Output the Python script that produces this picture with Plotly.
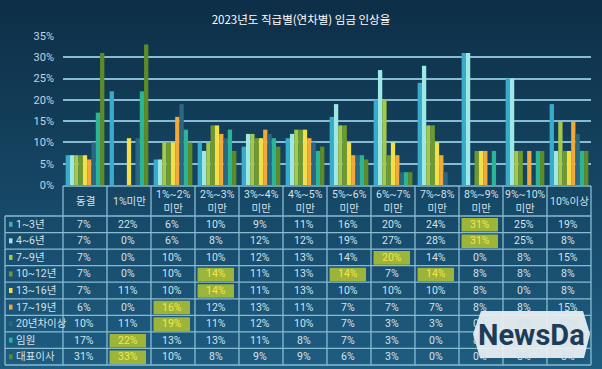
import plotly.graph_objects as go

# ---------------- data ----------------
categories = ["동결", "1%미만", "1%~2% 미만", "2%~3% 미만", "3%~4% 미만", "4%~5% 미만",
              "5%~6% 미만", "6%~7% 미만", "7%~8% 미만", "8%~9% 미만", "9%~10% 미만", "10%이상"]
header_labels = ["동결", "1%미만", "1%~2%<br>미만", "2%~3%<br>미만", "3%~4%<br>미만", "4%~5%<br>미만",
                 "5%~6%<br>미만", "6%~7%<br>미만", "7%~8%<br>미만", "8%~9%<br>미만", "9%~10%<br>미만", "10%이상"]
series_names = ["1~3년", "4~6년", "7~9년", "10~12년", "13~16년", "17~19년", "20년차이상", "임원", "대표이사"]

yr_1_3 = [7, 22, 6, 10, 9, 11, 16, 20, 24, 31, 25, 19]
yr_4_6 = [7, 0, 6, 8, 12, 12, 19, 27, 28, 31, 25, 8]
yr_7_9 = [7, 0, 10, 10, 12, 13, 14, 20, 14, 0, 8, 15]
yr_10_12 = [7, 0, 10, 14, 11, 13, 14, 7, 14, 8, 8, 8]
yr_13_16 = [7, 11, 10, 14, 11, 13, 10, 10, 10, 8, 0, 8]
yr_17_19 = [6, 0, 16, 12, 13, 11, 7, 7, 7, 8, 8, 15]
yr_20plus = [10, 11, 19, 11, 12, 10, 7, 3, 3, 0, 0, 12]
executive = [17, 22, 13, 13, 11, 8, 7, 3, 0, 8, 8, 8]
ceo = [31, 33, 10, 8, 9, 9, 6, 3, 0, 0, 8, 8]

series_values = [yr_1_3, yr_4_6, yr_7_9, yr_10_12, yr_13_16, yr_17_19, yr_20plus, executive, ceo]
colors = ["#3aaccb", "#9ee8e6", "#a4c94a", "#6c9a2c", "#f3df4b", "#f2a93b", "#2b6682", "#2bb597", "#5e8b28"]

y_ticks = [0, 5, 10, 15, 20, 25, 30, 35]

# ---------------- layout geometry (pixels) ----------------
W, H = 602, 369
L, R, T, B = 63, 591, 36, 185


def px(x):
    return (x - L) / (R - L)


def py(y):
    return (B - y) / (B - T)


fig = go.Figure()
for name, vals, c in zip(series_names, series_values, colors):
    fig.add_bar(x=categories, y=vals, name=name,
                marker=dict(color=c, line=dict(width=0)))

shapes = []
annotations = []

# background gradient (vertical bands)
top_c = (13, 47, 71)
bot_c = (30, 92, 128)
nb = 46
for i in range(nb):
    t = i / (nb - 1)
    col = tuple(int(round(top_c[k] + (bot_c[k] - top_c[k]) * t)) for k in range(3))
    y0 = H * i / nb
    y1 = H * (i + 1) / nb + 1
    shapes.append(dict(type="rect", xref="paper", yref="paper", layer="below",
                       x0=px(-5), x1=px(W + 5), y0=py(y1), y1=py(y0),
                       fillcolor="rgb(%d,%d,%d)" % col, line=dict(width=0)))

# table geometry
ncol = len(categories)
cw = (R - L) / ncol
col_edges = [L + cw * i for i in range(ncol + 1)]
row_top = 216
row_bot = 365
nrow = len(series_names)
rh = (row_bot - row_top) / nrow
row_edges = [row_top + rh * i for i in range(nrow + 1)]
head_top = 186
line_col = "#86bdd3"
txt_col = "#d3e3ec"
tfont = "Roboto, Noto Sans CJK KR, sans-serif"

# highlights: row maxima
for r, vals in enumerate(series_values):
    m = max(vals)
    for c, v in enumerate(vals):
        if v == m:
            shapes.append(dict(type="rect", xref="paper", yref="paper", layer="above",
                               x0=px(col_edges[c] + 2.5), x1=px(col_edges[c + 1] - 5),
                               y0=py(row_edges[r + 1] - 1), y1=py(row_edges[r] + 2),
                               fillcolor="#9cb43a", line=dict(width=0)))

# table lines
for y in row_edges:
    shapes.append(dict(type="line", xref="paper", yref="paper", layer="above",
                       x0=px(5), x1=px(R), y0=py(y), y1=py(y),
                       line=dict(color=line_col, width=1.3)))
shapes.append(dict(type="line", xref="paper", yref="paper", layer="above",
                   x0=px(L), x1=px(R), y0=py(head_top), y1=py(head_top),
                   line=dict(color=line_col, width=1.3)))
shapes.append(dict(type="line", xref="paper", yref="paper", layer="above",
                   x0=px(5), x1=px(5), y0=py(row_top), y1=py(row_bot),
                   line=dict(color=line_col, width=1.3)))
for x in col_edges:
    shapes.append(dict(type="line", xref="paper", yref="paper", layer="above",
                       x0=px(x), x1=px(x), y0=py(head_top), y1=py(row_bot),
                       line=dict(color=line_col, width=1.3)))

# header text
for c, lab in enumerate(header_labels):
    annotations.append(dict(xref="paper", yref="paper", x=px(col_edges[c] + cw / 2),
                            y=py((head_top + row_top) / 2 + 0.5), text=lab, showarrow=False,
                            xanchor="center", yanchor="middle",
                            font=dict(size=10.5, color=txt_col, family=tfont)))

# row labels with color squares
for r, (name, colr) in enumerate(zip(series_names, colors)):
    yc = (row_edges[r] + row_edges[r + 1]) / 2
    shapes.append(dict(type="rect", xref="paper", yref="paper", layer="above",
                       x0=px(9), x1=px(12.5), y0=py(yc + 2.5), y1=py(yc - 2.5),
                       fillcolor=colr, line=dict(width=0)))
    annotations.append(dict(xref="paper", yref="paper", x=px(14), y=py(yc),
                            text=name, showarrow=False, xanchor="left", yanchor="middle",
                            font=dict(size=10.5, color=txt_col, family=tfont)))

# cell values
for r, vals in enumerate(series_values):
    m = max(vals)
    yc = (row_edges[r] + row_edges[r + 1]) / 2
    for c, v in enumerate(vals):
        annotations.append(dict(xref="paper", yref="paper", x=px(col_edges[c] + cw / 2 - 1),
                                y=py(yc), text="%d%%" % v, showarrow=False,
                                xanchor="center", yanchor="middle",
                                font=dict(size=10.5, color="#f4e64a" if v == m else txt_col,
                                          family=tfont)))

# watermark logo
shapes.append(dict(type="path", xref="paper", yref="paper", layer="above",
                   path="M %f,%f L %f,%f L %f,%f L %f,%f L %f,%f L %f,%f Z" % (
                       px(481), py(311), px(583), py(311), px(590), py(334),
                       px(584), py(358), px(480), py(358), px(473), py(334)),
                   fillcolor="rgba(232,238,240,0.95)", line=dict(width=0)))
annotations.append(dict(xref="paper", yref="paper", x=px(531), y=py(334.5),
                        text="<b>NewsDa</b>", showarrow=False, xanchor="center", yanchor="middle",
                        font=dict(size=29, color="#1d3c58", family="Roboto, sans-serif")))

fig.update_layout(
    width=W, height=H,
    margin=dict(l=L, r=W - R, t=T, b=H - B, pad=0),
    paper_bgcolor="#174a6a",
    plot_bgcolor="rgba(0,0,0,0)",
    barmode="group", bargap=0.12, bargroupgap=0,
    showlegend=False,
    title=dict(text="2023년도 직급별(연차별) 임금 인상율", x=0.5, xanchor="center",
               y=1 - 20 / H, yanchor="middle",
               font=dict(size=11.5, color="#ffffff", family="Noto Sans CJK KR, sans-serif")),
    xaxis=dict(showticklabels=False, showgrid=False, zeroline=False, showline=False, ticks=""),
    yaxis=dict(range=[0, 35], tickvals=y_ticks, ticktext=["%d%%" % v for v in y_ticks],
               showgrid=True, gridcolor="#86bdd3", gridwidth=2, zeroline=False, showline=False,
               ticks="", ticklabelstandoff=8,
               tickfont=dict(size=11, color="#c3d6e0", family=tfont)),
    shapes=shapes,
    annotations=annotations,
)

fig.write_html("out.html", config={"displayModeBar": False},
               post_script="document.body.style.margin='0';document.body.style.overflow='hidden';")
